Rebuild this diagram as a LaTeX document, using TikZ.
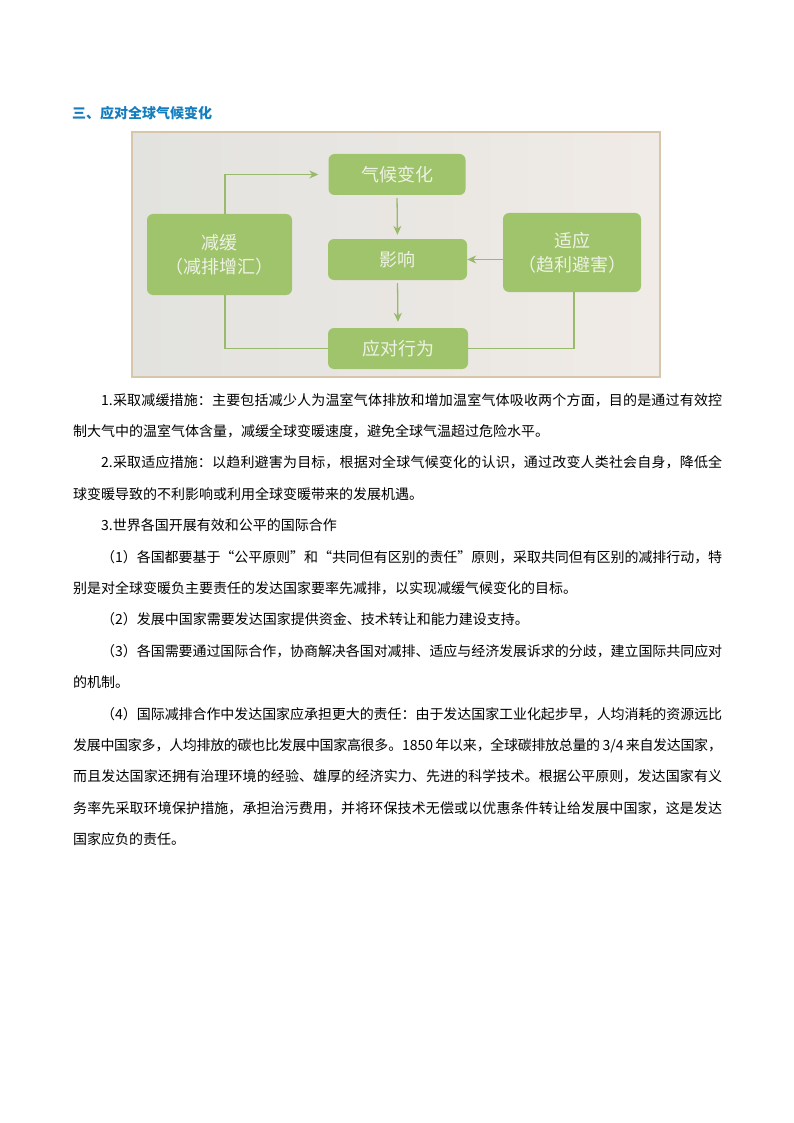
\documentclass[tikz,border=0pt]{standalone}
\usepackage{fontspec}
\newfontfamily\cjk{Noto Sans CJK SC}
\usetikzlibrary{arrows.meta}
\XeTeXlinebreaklocale "zh"
\XeTeXlinebreakskip=0pt plus 2pt minus 0.4pt
\tolerance=9999
\definecolor{titleblue}{RGB}{20,125,190}
\definecolor{boxgreen}{RGB}{160,196,108}
\definecolor{boxtext}{RGB}{238,242,228}
\definecolor{linkgreen}{RGB}{152,186,106}
\definecolor{photoL}{RGB}{226,226,222}
\definecolor{photoR}{RGB}{240,235,231}
\definecolor{photoedge}{RGB}{216,198,170}
\newcommand{\ind}{\hspace*{2em}}

\begin{document}
\begin{tikzpicture}[x=1pt, y=-1pt,
    box/.style={fill=boxgreen, rounded corners=6pt, text=boxtext, inner sep=0pt,
        align=center, minimum height=41pt, font=\cjk\fontsize{18}{24}\selectfont},
    link/.style={draw=linkgreen, line width=1.3pt},
    tip/.style={-{Stealth[length=9pt,width=8pt]}}
]
\useasboundingbox (0,0) rectangle (794,1123);

\node[anchor=west, inner sep=0pt, text=titleblue,
    font=\cjk\bfseries\fontsize{14}{16}\selectfont] (title) at (72,113) {三、应对全球气候变化};

% photo of the diagram
\shade[left color=photoL, right color=photoR] (132,132) rectangle (660,377);
\draw[photoedge, line width=1.2pt] (132,132) rectangle (660,377);

\node[box, minimum width=137pt] (cc) at (397,174.5) {气候变化};
\node[box, minimum width=139pt] (imp) at (397.5,259.5) {影响};
\node[box, minimum width=140pt] (act) at (398,348.5) {应对行为};
\node[box, minimum width=145pt, minimum height=81pt] (mit) at (219.5,254.5) {减缓\\（减排增汇）};
\node[box, minimum width=138pt, minimum height=79pt] (ada) at (572,252.5) {适应\\（趋利避害）};

\draw[link, tip, shorten >=10pt] ([xshift=5.5pt]mit.north) |- (cc.west);
\draw[link] ([xshift=5.5pt]mit.south) |- (act.west);
\draw[link] ([xshift=2pt]ada.south) |- (act.east);
\draw[link, tip] (ada.west |- imp.east) -- (imp.east);
\draw[link, tip, shorten <=3pt, shorten >=4pt] (cc.south) -- (imp.north);
\draw[link, tip, shorten <=3pt, shorten >=6pt] (imp.south) -- (act.north);

% text below the photo
\node[anchor=base west, inner sep=0pt, text width=649pt, align=justify,
    font=\cjk\fontsize{14}{31.4}\selectfont] (body) at (73,405) {%
\ind 1.采取减缓措施：主要包括减少人为温室气体排放和增加温室气体吸收两个方面，目的是通过有效控\linebreak
制大气中的温室气体含量，减缓全球变暖速度，避免全球气温超过危险水平。\par
\ind 2.采取适应措施：以趋利避害为目标，根据对全球气候变化的认识，通过改变人类社会自身，降低全\linebreak
球变暖导致的不利影响或利用全球变暖带来的发展机遇。\par
\ind 3.世界各国开展有效和公平的国际合作\par
\ind （1）各国都要基于“公平原则”和“共同但有区别的责任”原则，采取共同但有区别的减排行动，特\linebreak
别是对全球变暖负主要责任的发达国家要率先减排，以实现减缓气候变化的目标。\par
\ind （2）发展中国家需要发达国家提供资金、技术转让和能力建设支持。\par
\ind （3）各国需要通过国际合作，协商解决各国对减排、适应与经济发展诉求的分歧，建立国际共同应对\linebreak
的机制。\par
\ind （4）国际减排合作中发达国家应承担更大的责任：由于发达国家工业化起步早，人均消耗的资源远比\linebreak
发展中国家多，人均排放的碳也比发展中国家高很多。1850 年以来，全球碳排放总量的 3/4 来自发达国家，\linebreak
而且发达国家还拥有治理环境的经验、雄厚的经济实力、先进的科学技术。根据公平原则，发达国家有义\linebreak
务率先采取环境保护措施，承担治污费用，并将环保技术无偿或以优惠条件转让给发展中国家，这是发达\linebreak
国家应负的责任。\par};
\end{tikzpicture}
\end{document}
